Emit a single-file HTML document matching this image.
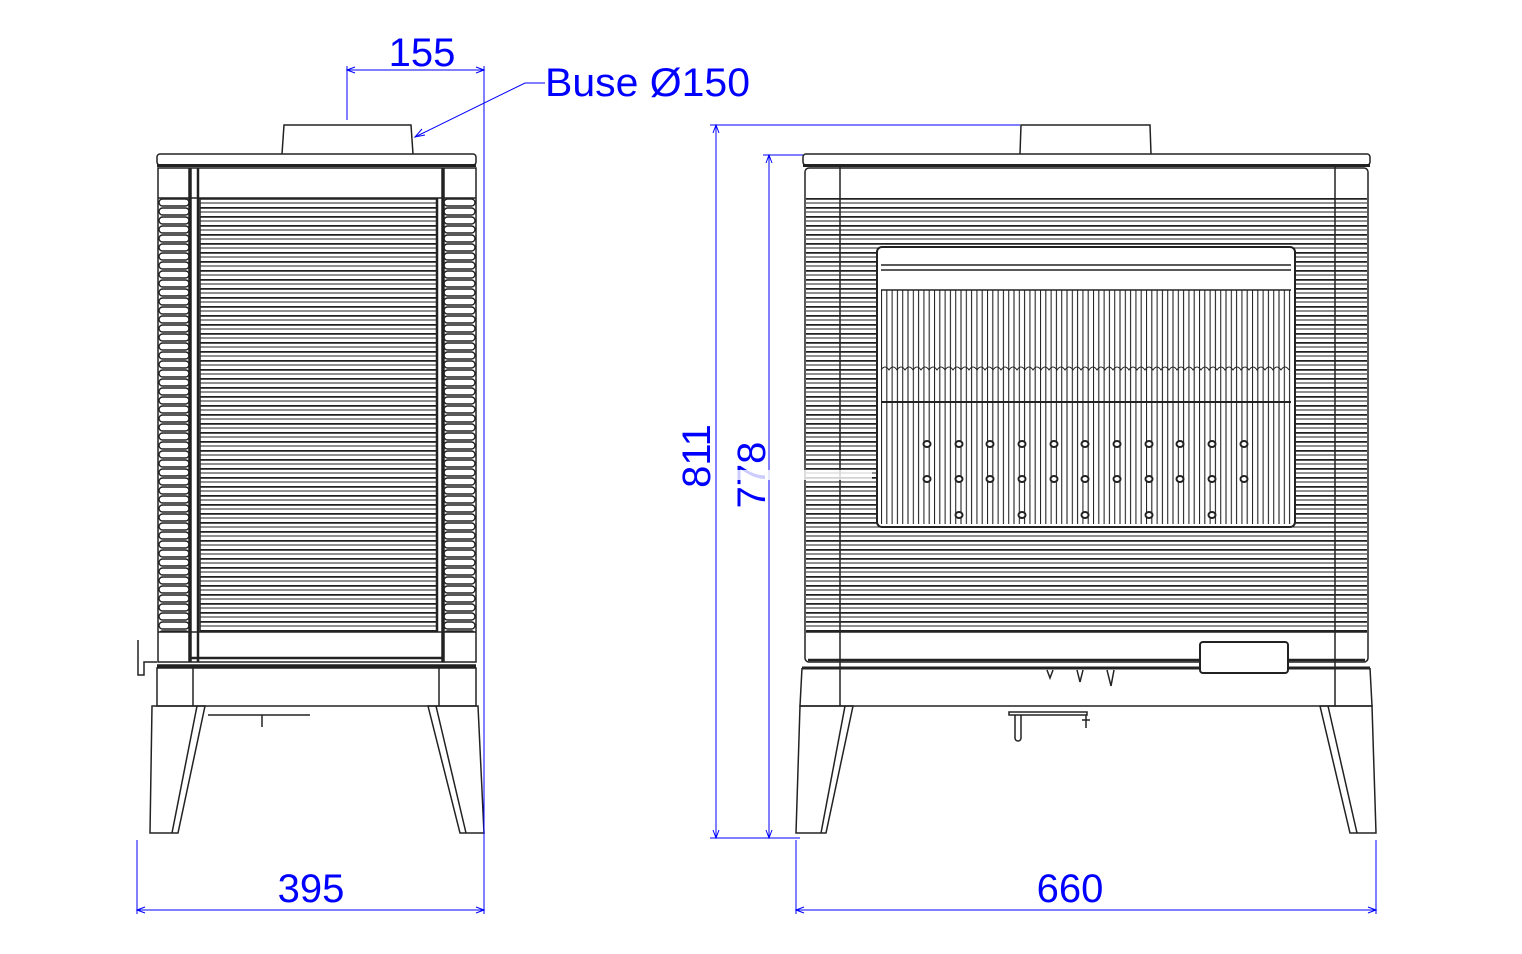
<!DOCTYPE html>
<html><head><meta charset="utf-8"><style>
html,body{margin:0;padding:0;background:#fff;}
svg{display:block;}
text{font-family:"Liberation Sans",sans-serif;fill:#0000ff;}
</style></head><body>
<svg width="1522" height="954" viewBox="0 0 1522 954" xmlns="http://www.w3.org/2000/svg">
<defs>
<pattern id="rib" x="0" y="198" width="40" height="9" patternUnits="userSpaceOnUse">
<line x1="0" y1="0.8" x2="40" y2="0.8" stroke="#222" stroke-width="2"/>
<line x1="0" y1="5" x2="40" y2="5" stroke="#222" stroke-width="1.1"/>
</pattern>
<pattern id="scalL" x="158" y="198" width="32" height="9" patternUnits="userSpaceOnUse">
<rect x="1" y="1" width="30" height="7" rx="3.5" fill="none" stroke="#222" stroke-width="1.4"/>
</pattern>
<pattern id="scalR" x="443" y="198" width="33" height="9" patternUnits="userSpaceOnUse">
<rect x="1" y="1" width="31" height="7" rx="3.5" fill="none" stroke="#222" stroke-width="1.4"/>
</pattern>
<pattern id="bars" x="881" y="0" width="10.6" height="10" patternUnits="userSpaceOnUse">
<line x1="0.5" y1="0" x2="0.5" y2="10" stroke="#222" stroke-width="1.1"/>
<line x1="5.8" y1="0" x2="5.8" y2="10" stroke="#222" stroke-width="1.1"/>
</pattern>
</defs>
<g fill="none" stroke="#222" stroke-width="1.5">
<!-- LEFT VIEW -->
<path d="M282,154 L284,125 L411,125 L413,154" fill="#fff"/>
<rect x="157" y="154" width="319" height="11" rx="3"/>
<line x1="157" y1="165.5" x2="476" y2="165.5" stroke-width="3"/>
<rect x="158" y="168" width="318" height="494"/>
<rect x="158" y="198" width="32" height="434" fill="url(#scalL)" stroke="none"/>
<rect x="443" y="198" width="33" height="434" fill="url(#scalR)" stroke="none"/>
<rect x="200" y="198" width="236" height="434" fill="url(#rib)" stroke="none"/>
<line x1="190" y1="168" x2="190" y2="662" stroke-width="3.5"/>
<line x1="198" y1="168" x2="198" y2="662" stroke-width="2.5"/>
<line x1="437" y1="198" x2="437" y2="632" stroke-width="2.5"/>
<line x1="443" y1="168" x2="443" y2="662" stroke-width="3.5"/>
<line x1="200" y1="198" x2="200" y2="632"/>
<line x1="158" y1="198" x2="476" y2="198"/>
<line x1="158" y1="632" x2="476" y2="632"/>
<line x1="190" y1="658" x2="443" y2="658" stroke-width="2.5"/>
<line x1="157" y1="666" x2="476" y2="666" stroke-width="3.5"/>
<rect x="157" y="668" width="319" height="38"/>
<line x1="193" y1="668" x2="193" y2="706"/>
<line x1="439" y1="668" x2="439" y2="706"/>
<path d="M138,640 L138,675 L144,675 L144,662 L157,662"/>
<path d="M152,706 L205,706 L178,833 L150,833 Z"/>
<path d="M197,706 L172,833"/>
<path d="M428,706 L478,706 L484,833 L460,833 Z"/>
<path d="M436,706 L466,833"/>
<path d="M208,715 L310,715"/>
<path d="M262,715 L262,727"/>
<!-- RIGHT VIEW -->
<path d="M1020,154 L1021,125 L1150,125 L1151,154" fill="#fff"/>
<rect x="803" y="154" width="567" height="11" rx="3"/>
<line x1="803" y1="165.5" x2="1370" y2="165.5" stroke-width="3"/>
<rect x="805" y="168" width="563" height="494" rx="4"/>
<rect x="806" y="198" width="561" height="434" fill="url(#rib)" stroke="none"/>
<line x1="840" y1="165" x2="840" y2="706"/>
<line x1="1335" y1="165" x2="1335" y2="706"/>
<rect x="877" y="247" width="418" height="280" rx="5" fill="#fff" stroke-width="2"/>
<line x1="881" y1="265" x2="1291" y2="265"/>
<line x1="881" y1="270" x2="1291" y2="270"/>
<line x1="881" y1="290" x2="1291" y2="290"/>
<rect x="881" y="290" width="410" height="234" fill="url(#bars)" stroke="none"/>
<path d="M881,370 q4,-6 8,0 q4,-6 8,0 q4,-6 8,0 q4,-6 8,0 q4,-6 8,0 q4,-6 8,0 q4,-6 8,0 q4,-6 8,0 q4,-6 8,0 q4,-6 8,0 q4,-6 8,0 q4,-6 8,0 q4,-6 8,0 q4,-6 8,0 q4,-6 8,0 q4,-6 8,0 q4,-6 8,0 q4,-6 8,0 q4,-6 8,0 q4,-6 8,0 q4,-6 8,0 q4,-6 8,0 q4,-6 8,0 q4,-6 8,0 q4,-6 8,0 q4,-6 8,0 q4,-6 8,0 q4,-6 8,0 q4,-6 8,0 q4,-6 8,0 q4,-6 8,0 q4,-6 8,0 q4,-6 8,0 q4,-6 8,0 q4,-6 8,0 q4,-6 8,0 q4,-6 8,0 q4,-6 8,0 q4,-6 8,0 q4,-6 8,0 q4,-6 8,0 q4,-6 8,0 q4,-6 8,0 q4,-6 8,0 q4,-6 8,0 q4,-6 8,0 q4,-6 8,0 q4,-6 8,0 q4,-6 8,0 q4,-6 8,0 q4,-6 8,0" stroke-width="1"/>
<line x1="881" y1="402" x2="1291" y2="402" stroke-width="2"/>
<g fill="#fff" stroke-width="2">
<ellipse cx="927" cy="444" rx="3.5" ry="3"/><ellipse cx="959" cy="444" rx="3.5" ry="3"/><ellipse cx="990" cy="444" rx="3.5" ry="3"/><ellipse cx="1022" cy="444" rx="3.5" ry="3"/><ellipse cx="1054" cy="444" rx="3.5" ry="3"/><ellipse cx="1085" cy="444" rx="3.5" ry="3"/><ellipse cx="1117" cy="444" rx="3.5" ry="3"/><ellipse cx="1149" cy="444" rx="3.5" ry="3"/><ellipse cx="1180" cy="444" rx="3.5" ry="3"/><ellipse cx="1212" cy="444" rx="3.5" ry="3"/><ellipse cx="1244" cy="444" rx="3.5" ry="3"/>
<ellipse cx="927" cy="479" rx="3.5" ry="3"/><ellipse cx="959" cy="479" rx="3.5" ry="3"/><ellipse cx="990" cy="479" rx="3.5" ry="3"/><ellipse cx="1022" cy="479" rx="3.5" ry="3"/><ellipse cx="1054" cy="479" rx="3.5" ry="3"/><ellipse cx="1085" cy="479" rx="3.5" ry="3"/><ellipse cx="1117" cy="479" rx="3.5" ry="3"/><ellipse cx="1149" cy="479" rx="3.5" ry="3"/><ellipse cx="1180" cy="479" rx="3.5" ry="3"/><ellipse cx="1212" cy="479" rx="3.5" ry="3"/><ellipse cx="1244" cy="479" rx="3.5" ry="3"/>
<ellipse cx="959" cy="515" rx="3.5" ry="3"/><ellipse cx="1022" cy="515" rx="3.5" ry="3"/><ellipse cx="1085" cy="515" rx="3.5" ry="3"/><ellipse cx="1149" cy="515" rx="3.5" ry="3"/><ellipse cx="1212" cy="515" rx="3.5" ry="3"/>
</g>
<line x1="806" y1="632" x2="1367" y2="632"/>
<line x1="808" y1="660" x2="1365" y2="660" stroke-width="2.5"/>
<line x1="802" y1="668" x2="1370" y2="668" stroke-width="3"/>
<path d="M802,668 L800,706 L1372,706 L1370,668"/>
<rect x="1200" y="642" width="88" height="31" rx="3" fill="#fff" stroke-width="2"/>
<path d="M1047,670 l3,8 l3,-8 M1077,670 l3,12 l3,-12 M1107,670 l4,16 l3,-16"/>
<path d="M1009,712 L1087,712 L1087,715 L1009,715 Z M1015,715 L1015,738 a3,3 0 0 0 6,0 L1021,715 M1086,715 L1086,728 M1082,720 L1090,720"/>
<path d="M800,706 L853,706 L826,833 L796,833 Z"/>
<path d="M845,706 L821,833"/>
<path d="M1320,706 L1372,706 L1376,833 L1350,833 Z"/>
<path d="M1328,706 L1357,833"/>
</g>
<!-- DIMENSIONS -->
<g stroke="#0000ff" stroke-width="1" fill="none">
<line x1="347" y1="66" x2="347" y2="120"/>
<line x1="484" y1="66" x2="484" y2="914"/>
<line x1="347" y1="70" x2="484" y2="70"/>
<path d="M355,67 L347,70 L355,73 M476,67 L484,70 L476,73"/>
<path d="M545,83 L525,83 L415,137"/>
<path d="M422,129 L415,137 L425,135"/>
<line x1="710" y1="125" x2="1020" y2="125"/>
<line x1="710" y1="838" x2="800" y2="838"/>
<line x1="716" y1="125" x2="716" y2="838"/>
<path d="M713,133 L716,125 L719,133 M713,830 L716,838 L719,830"/>
<line x1="763" y1="155" x2="803" y2="155"/>
<line x1="769" y1="155" x2="769" y2="838"/>
<path d="M766,163 L769,155 L772,163 M766,830 L769,838 L772,830"/>
<line x1="137" y1="840" x2="137" y2="914"/>
<line x1="137" y1="910" x2="484" y2="910"/>
<path d="M145,907 L137,910 L145,913 M476,907 L484,910 L476,913"/>
<line x1="796" y1="840" x2="796" y2="914"/>
<line x1="1376" y1="840" x2="1376" y2="914"/>
<line x1="796" y1="910" x2="1376" y2="910"/>
<path d="M804,907 L796,910 L804,913 M1368,907 L1376,910 L1368,913"/>
</g>
<text x="422" y="66" font-size="40" text-anchor="middle">155</text>
<text x="545" y="96" font-size="40" textLength="205" lengthAdjust="spacingAndGlyphs">Buse Ø150</text>
<text x="311" y="902" font-size="40" text-anchor="middle">395</text>
<text x="1070" y="902" font-size="40" text-anchor="middle">660</text>
<text transform="translate(710,456) rotate(-90)" font-size="40" text-anchor="middle">811</text>
<text transform="translate(765,475) rotate(-90)" font-size="40" text-anchor="middle">778</text>
<rect x="732" y="470" width="140" height="10" fill="#fff" opacity="0.8"/>
</svg>
</body></html>
